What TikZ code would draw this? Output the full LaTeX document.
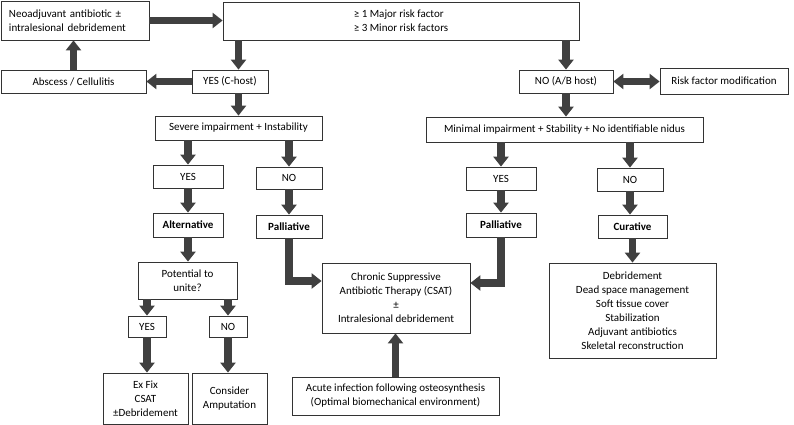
\documentclass[tikz,border=0pt]{standalone}
\usepackage{fontspec}
\setmainfont{Carlito}
\usetikzlibrary{arrows.meta}
\definecolor{arrowgray}{RGB}{64,64,64}

\begin{document}
\begin{tikzpicture}[x=1pt,y=-1pt,
  box/.style={draw=black!80,line width=0.8pt,inner sep=2pt,align=center,font=\fontsize{11}{14}\selectfont},
  boldbox/.style={box,font=\fontsize{11}{14}\selectfont\bfseries},
  bigarrow/.style={draw=arrowgray,line width=7.5pt,-{Triangle[length=10pt,width=15pt]}}]
  \useasboundingbox (0,0) rectangle (794,425);

  % top row
  \node[box,minimum width=148pt,minimum height=39pt,text width=132pt,align=left] (neo) at (75,20.5) {Neoadjuvant antibiotic ±\\intralesional debridement};
  \node[box,minimum width=356pt,minimum height=38pt,align=left] (major) at (401,21) {≥ 1 Major risk factor\\≥ 3 Minor risk factors};

  % host
  \node[box,minimum width=145pt,minimum height=23pt] (abscess) at (73.5,81.5) {Abscess / Cellulitis};
  \node[box,minimum width=76pt,minimum height=23pt] (chost) at (230,81.5) {YES (C-host)};
  \node[box,minimum width=94pt,minimum height=23pt] (nohost) at (566,81.5) {NO (A/B host)};
  \node[box,minimum width=128pt,minimum height=26pt] (riskmod) at (724,81) {Risk factor modification};

  % left branch
  \node[box,minimum width=167pt,minimum height=24pt] (severe) at (238.5,128) {Severe impairment + Instability};
  \node[box,minimum width=70pt,minimum height=23pt] (yesL) at (188,176.5) {YES};
  \node[box,minimum width=66pt,minimum height=22pt] (noL) at (289,178) {NO};
  \node[boldbox,minimum width=70pt,minimum height=24pt] (alt) at (188,225) {Alternative};
  \node[boldbox,minimum width=66pt,minimum height=23pt] (pallL) at (289,226.5) {Palliative};
  \node[box,minimum width=99pt,minimum height=37pt] (potential) at (187.5,280.5) {Potential to\\unite?};
  \node[box,minimum width=38pt,minimum height=21pt] (yesP) at (147,326.5) {YES};
  \node[box,minimum width=38pt,minimum height=21pt] (noP) at (228,326.5) {NO};
  \node[box,minimum width=85pt,minimum height=51pt] (exfix) at (145.5,398.5) {Ex Fix\\CSAT\\±Debridement};
  \node[box,minimum width=75pt,minimum height=51pt] (amput) at (229.5,398.5) {Consider\\Amputation};

  % middle
  \node[box,minimum width=148pt,minimum height=70pt] (csat) at (396,298) {Chronic Suppressive\\Antibiotic Therapy (CSAT)\\±\\Intralesional debridement};
  \node[box,minimum width=207pt,minimum height=38pt] (acute) at (395.5,396) {Acute infection following osteosynthesis\\(Optimal biomechanical environment)};

  % right branch
  \node[box,minimum width=277pt,minimum height=25pt] (minimal) at (564.5,129.5) {Minimal impairment + Stability + No identifiable nidus};
  \node[box,minimum width=70pt,minimum height=23pt] (yesR) at (501,178.5) {YES};
  \node[box,minimum width=66pt,minimum height=23pt] (noR) at (630,179.5) {NO};
  \node[boldbox,minimum width=70pt,minimum height=24pt] (pallR) at (501,225) {Palliative};
  \node[boldbox,minimum width=69pt,minimum height=23pt] (curative) at (632.5,226.5) {Curative};
  \node[box,minimum width=167pt,minimum height=95pt] (list) at (632.5,310.5) {Debridement\\Dead space management\\Soft tissue cover\\Stabilization\\Adjuvant antibiotics\\Skeletal reconstruction};

  % arrows
  \draw[bigarrow] (neo.east) -- (neo.east -| major.west);
  \draw[bigarrow] (major.south -| severe.north) -- (chost.north -| severe.north);
  \draw[bigarrow] (chost.west) -- (abscess.east);
  \draw[bigarrow] (abscess.north) -- (abscess.north |- neo.south);
  \draw[bigarrow] (chost.south -| severe.north) -- (severe.north);
  \draw[bigarrow] (major.south -| nohost.north) -- (nohost.north);
  \draw[bigarrow,{Triangle[length=10pt,width=15pt]}-{Triangle[length=10pt,width=15pt]}] (nohost.east) -- (nohost.east -| riskmod.west);
  \draw[bigarrow] (nohost.south) -- (nohost.south |- minimal.north);

  \draw[bigarrow] (severe.south -| yesL.north) -- (yesL.north);
  \draw[bigarrow] (severe.south -| noL.north) -- (noL.north);
  \draw[bigarrow] (yesL.south) -- (alt.north);
  \draw[bigarrow] (noL.south) -- (pallL.north);
  \draw[bigarrow] (alt.south) -- (alt.south |- potential.north);
  \draw[bigarrow] (potential.south -| yesP.north) -- (yesP.north);
  \draw[bigarrow] (potential.south -| noP.north) -- (noP.north);
  \draw[bigarrow] (yesP.south) -- (yesP.south |- exfix.north);
  \draw[bigarrow] (noP.south) -- (noP.south |- amput.north);

  \draw[bigarrow] (pallL.south) |- ([yshift=17pt]csat.west);
  \draw[bigarrow] (pallR.south) |- ([yshift=15pt]csat.east);
  \draw[bigarrow] (acute.north) -- (acute.north |- csat.south);

  \draw[bigarrow] (minimal.south -| yesR.north) -- (yesR.north);
  \draw[bigarrow] (minimal.south -| noR.north) -- (noR.north);
  \draw[bigarrow] (yesR.south) -- (yesR.south |- pallR.north);
  \draw[bigarrow] (noR.south) -- (noR.south |- curative.north);
  \draw[bigarrow] (curative.south) -- (curative.south |- list.north);
\end{tikzpicture}
\end{document}
